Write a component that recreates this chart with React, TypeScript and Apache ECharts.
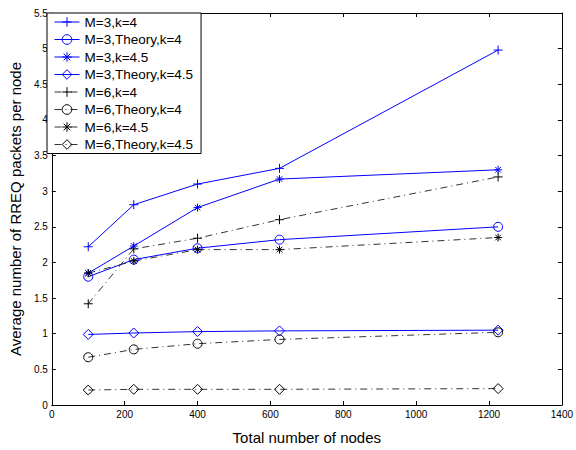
import React, { useEffect, useRef } from "react";
import * as echarts from "echarts";

const nodes = [100, 225, 400, 625, 1225];
const m3k4 = [2.22, 2.81, 3.1, 3.32, 4.98];
const m3TheoryK4 = [1.8, 2.04, 2.2, 2.32, 2.5];
const m3k45 = [1.85, 2.23, 2.77, 3.17, 3.3];
const m3TheoryK45 = [0.99, 1.01, 1.03, 1.04, 1.05];
const m6k4 = [1.42, 2.19, 2.34, 2.6, 3.2];
const m6TheoryK4 = [0.67, 0.78, 0.86, 0.92, 1.02];
const m6k45 = [1.85, 2.02, 2.18, 2.18, 2.35];
const m6TheoryK45 = [0.21, 0.22, 0.22, 0.22, 0.23];

const PLUS = "path://M0,-5L0,5M-5,0L5,0";
const STAR = "path://M0,-5L0,5M-5,0L5,0M-3.5,-3.5L3.5,3.5M-3.5,3.5L3.5,-3.5";
const CIRCLE = "circle";
const DIAMOND = "path://M0,-5L5,0L0,5L-5,0Z";

const seriesDefs = [
  { name: "M=3,k=4", data: m3k4, color: "#0000ff", line: "#0000ff", symbol: PLUS, dash: false, size: 9 },
  { name: "M=3,Theory,k=4", data: m3TheoryK4, color: "#0000ff", line: "#0000ff", symbol: CIRCLE, dash: false, size: 9 },
  { name: "M=3,k=4.5", data: m3k45, color: "#0000ff", line: "#0000ff", symbol: STAR, dash: false, size: 8 },
  { name: "M=3,Theory,k=4.5", data: m3TheoryK45, color: "#0000ff", line: "#0000ff", symbol: DIAMOND, dash: false, size: 10 },
  { name: "M=6,k=4", data: m6k4, color: "#000000", line: "#333333", symbol: PLUS, dash: true, size: 9 },
  { name: "M=6,Theory,k=4", data: m6TheoryK4, color: "#000000", line: "#333333", symbol: CIRCLE, dash: true, size: 9 },
  { name: "M=6,k=4.5", data: m6k45, color: "#000000", line: "#333333", symbol: STAR, dash: true, size: 8 },
  { name: "M=6,Theory,k=4.5", data: m6TheoryK45, color: "#000000", line: "#333333", symbol: DIAMOND, dash: true, size: 10 },
];

const FONT = "Liberation Sans, Arial, Helvetica, sans-serif";

export default function App() {
  const ref = useRef<HTMLDivElement>(null);
  useEffect(() => {
    if (!ref.current) return;
    const chart = echarts.init(ref.current, null, { renderer: "svg" });
    const axisCommon = {
      axisLine: { show: true, onZero: false, lineStyle: { color: "#000", width: 1 } },
      axisTick: { show: true, inside: true, length: 4, lineStyle: { color: "#000", width: 1 } },
      splitLine: { show: false },
    };
    chart.setOption({
      animation: false,
      backgroundColor: "#fff",
      textStyle: { fontFamily: FONT },
      grid: { left: 47, right: 13, top: 13, bottom: 43, containLabel: false },
      legend: {
        orient: "vertical",
        left: 47,
        top: 13,
        itemWidth: 25,
        itemHeight: 12,
        itemGap: 3.5,
        padding: [2, 8, 2, 7],
        backgroundColor: "#fff",
        borderColor: "#000",
        borderWidth: 1,
        borderRadius: 0,
        lineStyle: { width: 1 },
        itemStyle: { borderWidth: 1 },
        textStyle: { fontFamily: FONT, fontSize: 13.5, color: "#000", lineHeight: 12 },
        data: seriesDefs.map((s) => s.name),
      },
      xAxis: [
        {
          type: "value",
          min: 0,
          max: 1400,
          interval: 200,
          position: "bottom",
          ...axisCommon,
          axisLabel: { color: "#000", fontSize: 10, margin: 4, fontFamily: FONT, formatter: (v: number) => String(v) },
          name: "Total number of nodes",
          nameLocation: "middle",
          nameGap: 25,
          nameTextStyle: { color: "#000", fontSize: 15, fontFamily: FONT },
        },
        {
          type: "value",
          min: 0,
          max: 1400,
          interval: 200,
          position: "top",
          ...axisCommon,
          axisLabel: { show: false },
        },
      ],
      yAxis: [
        {
          type: "value",
          min: 0,
          max: 5.5,
          interval: 0.5,
          position: "left",
          ...axisCommon,
          axisLabel: { color: "#000", fontSize: 10, margin: 4, fontFamily: FONT },
          name: "Average number of RREQ packets per node",
          nameLocation: "middle",
          nameGap: 22,
          nameTextStyle: { color: "#000", fontSize: 15, fontFamily: FONT },
        },
        {
          type: "value",
          min: 0,
          max: 5.5,
          interval: 0.5,
          position: "right",
          ...axisCommon,
          axisLabel: { show: false },
        },
      ],
      series: seriesDefs.map((s) => ({
        name: s.name,
        type: "line",
        xAxisIndex: 0,
        yAxisIndex: 0,
        data: nodes.map((x, i) => [x, s.data[i]]),
        symbol: s.symbol,
        symbolSize: s.size,
        showAllSymbol: true,
        color: s.color,
        itemStyle: { color: "rgba(255,255,255,0)", borderColor: s.color, borderWidth: 1 },
        lineStyle: {
          color: s.line,
          width: 1,
          type: s.dash ? [7, 4, 1, 4] : "solid",
        },
        emphasis: { disabled: true },
        z: 2,
      })),
    });
    return () => chart.dispose();
  }, []);
  return (
    <div
      ref={ref}
      style={{ position: "fixed", left: 0, top: 0, width: 576, height: 450 }}
    />
  );
}
